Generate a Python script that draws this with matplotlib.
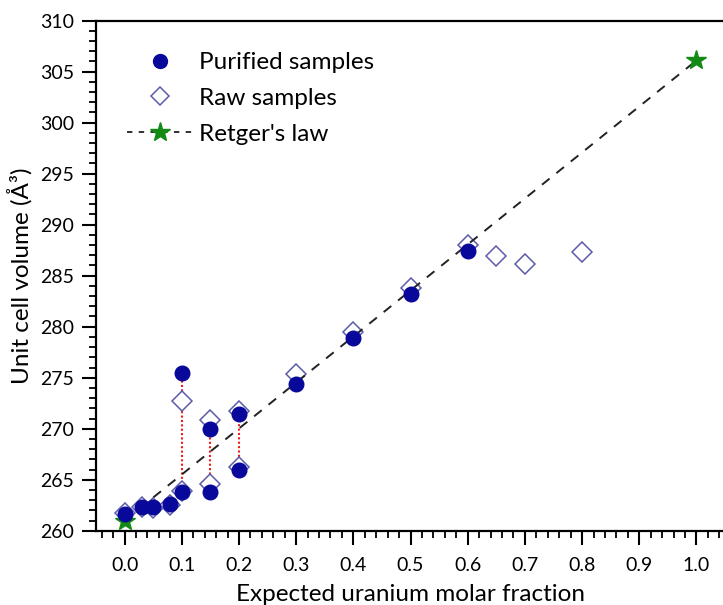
import matplotlib
matplotlib.use("Agg")
import matplotlib.pyplot as plt
from matplotlib.lines import Line2D
from matplotlib.ticker import MultipleLocator

plt.rcParams['font.family'] = ['Lato', 'DejaVu Sans']

# purified samples (filled circles)
pur_x = [0.0, 0.03, 0.05, 0.08, 0.10, 0.10, 0.15, 0.15, 0.20, 0.20, 0.30, 0.40, 0.50, 0.60]
pur_v = [261.6, 262.3, 262.3, 262.6, 263.8, 275.5, 263.8, 270.0, 266.0, 271.4, 274.4, 278.9, 283.2, 287.4]

# raw samples (open diamonds)
raw_x = [0.0, 0.03, 0.05, 0.08, 0.10, 0.10, 0.15, 0.15, 0.20, 0.20, 0.30, 0.40, 0.50, 0.60, 0.65, 0.70, 0.80]
raw_v = [261.7, 262.3, 262.2, 262.5, 263.9, 272.7, 264.6, 270.9, 266.2, 271.7, 275.4, 279.5, 283.8, 288.0, 286.9, 286.1, 287.3]

# Retger's law end members
ret_x = [0.0, 1.0]
ret_v = [261.0, 306.1]

# vertical links between the two phases found in one sample
link_x = [0.10, 0.15, 0.20]
link_lo = [263.8, 263.8, 266.0]
link_hi = [275.5, 270.0, 271.4]

c_pur = '#08089a'
c_raw = '#5c5caa'
c_ret = '#138a13'

fig = plt.figure(figsize=(7.23, 6.05), dpi=100)
# right edge of the frame runs just past the canvas
ax = fig.add_axes([0.1328, 0.1228, 0.870, 0.843])

ax.vlines(link_x, link_lo, link_hi, colors='#ee1c1c', linestyles=(0, (1, 1.1)), linewidth=1.5, zorder=2)
ax.plot(raw_x, raw_v, linestyle='none', marker='D', markersize=10.5, markerfacecolor='white',
        markeredgecolor=c_raw, markeredgewidth=1.1, zorder=3)
ax.plot(ret_x, ret_v, color='#222222', linestyle=(0, (5, 4.5)), linewidth=1.4, marker='*',
        markersize=15, markerfacecolor=c_ret, markeredgecolor=c_ret, zorder=4)
ax.plot(pur_x, pur_v, linestyle='none', marker='o', markersize=10.5, color=c_pur, zorder=5)

ax.set_xlim(-0.05, 1.05)
ax.set_ylim(260, 310)
ax.xaxis.set_minor_locator(MultipleLocator(0.02))
ax.yaxis.set_major_locator(MultipleLocator(5))
ax.yaxis.set_minor_locator(MultipleLocator(1))
ax.set_xticks([i / 10 for i in range(11)])
ax.set_xticklabels(['%.1f' % (i / 10) for i in range(11)])

for s in ax.spines.values():
    s.set_linewidth(1.6)

ax.tick_params(which='major', direction='out', length=10, width=1.5, labelsize=14, pad=6)
ax.tick_params(axis='x', which='major', pad=9)
ax.tick_params(which='minor', direction='out', length=5, width=1.3)

ax.set_xlabel('Expected uranium molar fraction', fontsize=17.5, labelpad=7)
ax.set_ylabel('Unit cell volume (Å³)', fontsize=17.5, labelpad=5)

# legend keys with shorter dashes than the plotted line
handles = [
    Line2D([], [], linestyle='none', marker='o', markersize=10, color=c_pur),
    Line2D([], [], linestyle='none', marker='D', markersize=9, markerfacecolor='white',
           markeredgecolor=c_raw, markeredgewidth=1.1),
    Line2D([], [], color='#222222', linestyle=(0, (3, 3.5)), linewidth=1.3, marker='*',
           markersize=15, markerfacecolor=c_ret, markeredgecolor=c_ret),
]
labels = ['Purified samples', 'Raw samples', "Retger's law"]
ax.legend(handles, labels, loc='upper left', frameon=False, fontsize=17.5,
          bbox_to_anchor=(0.049, 0.938), borderpad=0, borderaxespad=0,
          handlelength=2.7, handletextpad=0.25, labelspacing=0.6)

fig.savefig('out.png', dpi=100)
